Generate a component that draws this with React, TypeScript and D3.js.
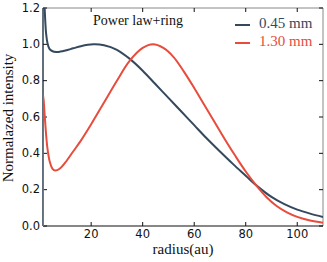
import * as d3 from "d3";

const xTicks = [20, 40, 60, 80, 100];
const yTicks = [0, 0.2, 0.4, 0.6, 0.8, 1.0, 1.2];

const radius045 = [1.3, 1.6, 2, 2.5, 3, 3.8, 5, 6.4, 8, 10, 13, 16, 20.8, 25, 30, 35, 40, 45, 50, 55, 60, 65, 70, 75, 80, 84, 90, 95, 100, 105, 110];
const int045 = [1.6, 1.35, 1.18, 1.06, 1.01, 0.975, 0.962, 0.958, 0.96, 0.966, 0.978, 0.99, 1.0, 0.995, 0.97, 0.92, 0.855, 0.78, 0.705, 0.63, 0.555, 0.48, 0.41, 0.342, 0.277, 0.225, 0.16, 0.12, 0.09, 0.068, 0.05];

const radius130 = [1.3, 1.4, 2, 3, 4, 5, 6, 8, 10, 13, 16, 20, 25, 30, 35, 40, 44, 48, 52, 56, 60, 64, 68, 72, 76, 80, 84, 88, 92, 96, 100, 105, 110];
const int130 = [0, 0.72, 0.6, 0.43, 0.35, 0.315, 0.305, 0.318, 0.35, 0.41, 0.47, 0.56, 0.68, 0.8, 0.91, 0.98, 1.0, 0.98, 0.93, 0.85, 0.76, 0.665, 0.57, 0.475, 0.385, 0.3, 0.225, 0.16, 0.11, 0.075, 0.05, 0.03, 0.018];

const series = [
  { name: "0.45 mm", color: "#34495e", xs: radius045, ys: int045 },
  { name: "1.30 mm", color: "#e74c3c", xs: radius130, ys: int130 },
];

const W = 327;
const H = 262;
const left = 43;
const right = 323;
const top = 8;
const bottom = 226;

const x = d3.scaleLinear().domain([1.3, 110]).range([left, right]);
const y = d3.scaleLinear().domain([0, 1.2]).range([bottom, top]);

export default function App() {
  const line = d3
    .line<[number, number]>()
    .x((d) => x(d[0]))
    .y((d) => y(d[1]))
    .curve(d3.curveCatmullRom.alpha(0.5));

  return (
    <svg
      width={W}
      height={H}
      style={{ position: "absolute", left: 0, top: 0 }}
    >
      <defs>
        <clipPath id="plot">
          <rect x={left} y={top} width={right - left} height={bottom - top} />
        </clipPath>
      </defs>
      <rect width={W} height={H} fill="white" />

      {/* frame */}
      <line x1={left} x2={right} y1={top} y2={top} stroke="#888" strokeWidth={1} />
      <line x1={right} x2={right} y1={top} y2={bottom} stroke="#888" strokeWidth={1} />
      <line x1={left} x2={right} y1={bottom} y2={bottom} stroke="#111" strokeWidth={1.2} />
      <line x1={left} x2={left} y1={top} y2={bottom} stroke="#2c3e50" strokeWidth={1.5} />

      {/* ticks */}
      {xTicks.map((t) => (
        <g key={"x" + t}>
          <line x1={x(t)} x2={x(t)} y1={bottom} y2={bottom - 4} stroke="#111" />
          <line x1={x(t)} x2={x(t)} y1={top} y2={top + 4} stroke="#111" />
          <text
            x={x(t)}
            y={bottom + 8}
            textAnchor="middle"
            dominantBaseline="middle"
            fontFamily="DejaVu Sans"
            fontSize={11.5}
            fill="#111"
          >
            {t}
          </text>
        </g>
      ))}
      {yTicks.map((t) => (
        <g key={"y" + t}>
          <line x1={left} x2={left + 4} y1={y(t)} y2={y(t)} stroke="#111" />
          <line x1={right} x2={right - 4} y1={y(t)} y2={y(t)} stroke="#111" />
          <text
            x={left - 3}
            y={y(t)}
            textAnchor="end"
            dominantBaseline="middle"
            fontFamily="DejaVu Sans"
            fontSize={11.5}
            fill="#111"
          >
            {t.toFixed(1)}
          </text>
        </g>
      ))}

      {/* curves */}
      <g clipPath="url(#plot)">
        {series.map((s) => (
          <path
            key={s.name}
            d={line(s.xs.map((v, i) => [v, s.ys[i]] as [number, number])) ?? ""}
            fill="none"
            stroke={s.color}
            strokeWidth={2}
          />
        ))}
      </g>

      {/* title & legend */}
      <text x={93} y={25} fontFamily="Liberation Serif" fontSize={14} fill="#111">
        Power law+ring
      </text>
      {series.map((s, i) => (
        <g key={"leg" + s.name}>
          <line x1={235} x2={250} y1={25 + i * 18} y2={25 + i * 18} stroke={s.color} strokeWidth={2} />
          <text
            x={259}
            y={25 + i * 18}
            dominantBaseline="middle"
            fontFamily="Liberation Serif"
            fontSize={15}
            fill={s.color}
          >
            {s.name}
          </text>
        </g>
      ))}

      {/* axis labels */}
      <text
        x={(left + right) / 2}
        y={251}
        textAnchor="middle"
        dominantBaseline="middle"
        fontFamily="Liberation Serif"
        fontSize={15}
        fill="#111"
      >
        radius(au)
      </text>
      <text
        transform={`translate(10,${118}) rotate(-90)`}
        textAnchor="middle"
        dominantBaseline="middle"
        fontFamily="Liberation Serif"
        fontSize={15}
        fill="#111"
      >
        Normalazed intensity
      </text>
    </svg>
  );
}
